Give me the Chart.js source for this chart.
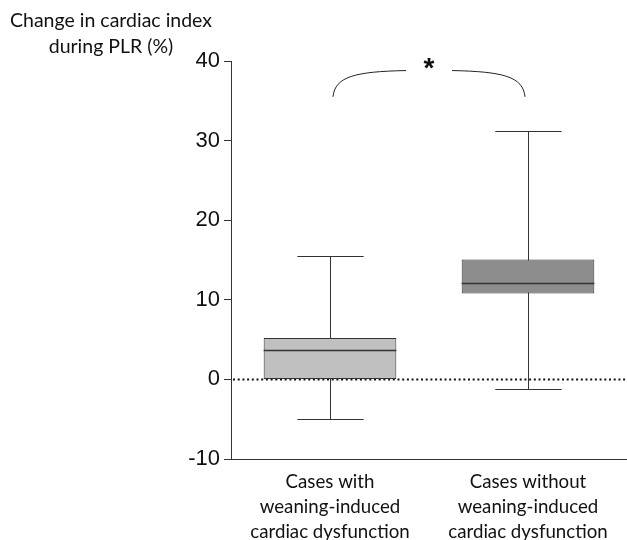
<!DOCTYPE html>
<html>
<head>
<meta charset="utf-8">
<script src="https://cdn.jsdelivr.net/npm/chart.js@4"></script>
<style>
  html, body { margin: 0; padding: 0; background: #fff; }
  #wrap { position: relative; width: 627px; height: 540px; }
</style>
</head>
<body>
<div id="wrap"><canvas id="box"></canvas></div>
<script>
// groups and box statistics
const categories = [
  ["Cases with", "weaning-induced", "cardiac dysfunction"],
  ["Cases without", "weaning-induced", "cardiac dysfunction"],
];
const whiskerLow  = [-5.0, -1.25];
const q1          = [0.0, 10.8];
const median      = [3.75, 12.1];
const q3          = [5.2, 15.05];
const whiskerHigh = [15.5, 31.15];
const boxColors   = ["#c0c0c0", "#8d8d8d"];
const yTicks      = [-10, 0, 10, 20, 30, 40];
const yTitle      = ["Change in cardiac index", "during PLR (%)"];
const bracket     = { low: 35.5, high: 38.8, label: "*" };

const TEXT_FONT = "Lato, 'Open Sans', sans-serif";
const TICK_FONT = "'Liberation Sans', Arial, sans-serif";

const boxPlot = {
  id: "boxPlot",
  beforeDatasetsDraw(chart) {
    const { ctx, chartArea: a, scales: { y } } = chart;
    // dotted zero line
    const y0 = Math.round(y.getPixelForValue(0)) + 0.5;
    ctx.save();
    ctx.strokeStyle = "#111"; ctx.lineWidth = 2;
    ctx.setLineDash([2, 2.7]);
    ctx.beginPath(); ctx.moveTo(a.left + 2, y0); ctx.lineTo(a.right, y0); ctx.stroke();
    ctx.restore();

    // whiskers behind the boxes
    const meta = chart.getDatasetMeta(0);
    ctx.save();
    ctx.strokeStyle = "#333"; ctx.lineWidth = 1;
    meta.data.forEach((bar, i) => {
      const x = Math.round(bar.x) + 0.5, half = bar.width / 4;
      const yl = Math.round(y.getPixelForValue(whiskerLow[i])) + 0.5;
      const yh = Math.round(y.getPixelForValue(whiskerHigh[i])) + 0.5;
      ctx.beginPath();
      ctx.moveTo(x, yl); ctx.lineTo(x, yh);
      ctx.moveTo(x - half, yl); ctx.lineTo(x + half, yl);
      ctx.moveTo(x - half, yh); ctx.lineTo(x + half, yh);
      ctx.stroke();
    });
    ctx.restore();
  },
  afterDatasetsDraw(chart) {
    const { ctx, scales: { y } } = chart;
    const meta = chart.getDatasetMeta(0);
    ctx.save();
    ctx.strokeStyle = "#333"; ctx.lineWidth = 1.5;
    meta.data.forEach((bar, i) => {
      const ym = Math.round(y.getPixelForValue(median[i])) + 0.5;
      ctx.beginPath();
      ctx.moveTo(bar.x - bar.width / 2, ym); ctx.lineTo(bar.x + bar.width / 2, ym);
      ctx.stroke();
    });

    // significance bracket
    const xl = meta.data[0].x, xr = meta.data[1].x, xm = (xl + xr) / 2;
    const yLow = y.getPixelForValue(bracket.low), yHigh = y.getPixelForValue(bracket.high);
    const gap = 23;
    ctx.strokeStyle = "#222"; ctx.lineWidth = 1;
    ctx.beginPath();
    ctx.moveTo(xl + 3, yLow);
    ctx.bezierCurveTo(xl + 5, yHigh + 6, xl + 25, yHigh + 1, xm - gap, yHigh);
    ctx.moveTo(xr - 3, yLow);
    ctx.bezierCurveTo(xr - 5, yHigh + 6, xr - 25, yHigh + 1, xm + gap, yHigh);
    ctx.stroke();
    ctx.fillStyle = "#111";
    ctx.font = "bold 28px " + TICK_FONT;
    ctx.textAlign = "center"; ctx.textBaseline = "middle";
    ctx.fillText(bracket.label, xm, yHigh - 1);

    // axis title, upper left
    ctx.font = "19.5px " + TEXT_FONT;
    ctx.textBaseline = "alphabetic";
    ctx.fillStyle = "#111";
    ctx.fillText(yTitle[0], 111, 27);
    ctx.fillText(yTitle[1], 111, 53);
    ctx.restore();
  },
};

new Chart(document.getElementById("box"), {
  type: "bar",
  data: {
    labels: categories,
    datasets: [{
      data: q1.map((v, i) => [v, q3[i]]),
      backgroundColor: boxColors,
      borderColor: "#333",
      borderWidth: 1,
      borderSkipped: false,
      barPercentage: 0.67,
      categoryPercentage: 1,
    }],
  },
  options: {
    responsive: true, maintainAspectRatio: false, animation: false,
    layout: { padding: { top: 61, right: 0, bottom: 0, left: 0 } },
    plugins: { legend: { display: false }, tooltip: { enabled: false } },
    scales: {
      x: {
        offset: true,
        grid: { display: false },
        border: { display: true, color: "#333", width: 1 },
        ticks: { color: "#111", font: { family: TEXT_FONT, size: 18.7, lineHeight: 1.34 }, padding: 2, maxRotation: 0 },
        afterFit: s => { s.height = 81; },
      },
      y: {
        min: -10, max: 40,
        afterBuildTicks: s => { s.ticks = yTicks.map(v => ({ value: v })); },
        grid: { drawOnChartArea: false, drawTicks: true, tickLength: 7, color: "#333" },
        border: { display: true, color: "#333", width: 1 },
        ticks: { color: "#111", font: { family: TICK_FONT, size: 22 }, padding: 4 },
        afterFit: s => { s.width = 231; },
      },
    },
  },
  plugins: [boxPlot],
});
</script>
</body>
</html>
